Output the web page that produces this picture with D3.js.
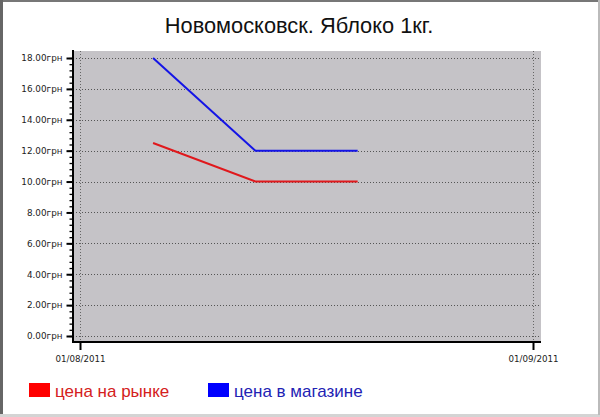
<!DOCTYPE html>
<html>
<head>
<meta charset="utf-8">
<script src="https://cdn.jsdelivr.net/npm/d3@7"></script>
<style>
  body { margin: 0; background: #fff; }
  svg { display: block; }
</style>
</head>
<body>
<script>
const width = 600;
const height = 417;

const dates = ["2011-08-06", "2011-08-13", "2011-08-20"];
const marketPrice = [12.5, 10, 10];
const shopPrice = [18, 12, 12];
const yTicks = [0, 2, 4, 6, 8, 10, 12, 14, 16, 18];
const xTicks = ["2011-08-01", "2011-09-01"];
const seriesNames = ["цена на рынке", "цена в магазине"];

const parse = d3.timeParse("%Y-%m-%d");
const fmtDate = d3.timeFormat("%d/%m/%Y");

const svg = d3.select("body").append("svg")
    .attr("width", width)
    .attr("height", height);

// picture frame
svg.append("rect").attr("x", 0).attr("y", 0).attr("width", width).attr("height", 2).attr("fill", "#777");
svg.append("rect").attr("x", 0).attr("y", 0).attr("width", 3).attr("height", 415).attr("fill", "#666");
svg.append("rect").attr("x", 0).attr("y", 414).attr("width", width).attr("height", 3).attr("fill", "#d4d4d4");
svg.append("rect").attr("x", 598).attr("y", 0).attr("width", 2).attr("height", 415).attr("fill", "#bbb");

svg.append("text")
    .attr("x", 299)
    .attr("y", 33)
    .attr("text-anchor", "middle")
    .style("font-family", "Liberation Sans, Arial, sans-serif")
    .style("font-size", "21.8px")
    .attr("fill", "#111")
    .text("Новомосковск. Яблоко 1кг.");

const x = d3.scaleTime()
    .domain([parse(xTicks[0]), parse(xTicks[1])])
    .range([80, 533]);

const y = d3.scaleLinear()
    .domain([0, 18])
    .range([336, 58]);

// plot background
svg.append("rect")
    .attr("x", 73).attr("y", 51)
    .attr("width", 541 - 73).attr("height", 342 - 51)
    .attr("fill", "#c5c3c7");

// horizontal dotted grid
svg.append("g").selectAll("line")
    .data(yTicks)
    .join("line")
    .attr("x1", 73).attr("x2", 541)
    .attr("y1", d => Math.round(y(d)) + 0.5)
    .attr("y2", d => Math.round(y(d)) + 0.5)
    .attr("stroke", "#555")
    .attr("stroke-dasharray", "1,2");

// vertical dotted grid
svg.append("g").selectAll("line")
    .data(xTicks)
    .join("line")
    .attr("x1", d => x(parse(d)) + 0.5).attr("x2", d => x(parse(d)) + 0.5)
    .attr("y1", 51).attr("y2", 342)
    .attr("stroke", "#666")
    .attr("stroke-dasharray", "1,2");

// y axis with minor ticks
const yAxis = svg.append("g")
    .attr("transform", "translate(73.5,0)")
    .call(d3.axisLeft(y).tickValues(d3.range(0, 18.01, 0.4)).tickSize(4).tickFormat(""));
yAxis.select(".domain").remove();
yAxis.selectAll(".tick line").attr("stroke", "#000").attr("stroke-width", 1.3);

const yMajor = svg.append("g")
    .attr("transform", "translate(73.5,0)")
    .call(d3.axisLeft(y).tickValues(yTicks).tickSize(7).tickPadding(4)
        .tickFormat(d => d3.format(".2f")(d) + "грн"));
yMajor.select(".domain").remove();
yMajor.selectAll(".tick line").attr("stroke", "#000").attr("stroke-width", 2);
yMajor.selectAll("text")
    .style("font-family", "DejaVu Sans, Verdana, sans-serif")
    .style("font-size", "8.8px")
    .attr("fill", "#222");

svg.append("line")
    .attr("x1", 73).attr("x2", 73).attr("y1", 50).attr("y2", 343)
    .attr("stroke", "#000").attr("stroke-width", 2);

// x axis
const xAxis = svg.append("g")
    .attr("transform", "translate(0,342)")
    .call(d3.axisBottom(x).tickValues(xTicks.map(parse)).tickSize(8).tickPadding(6).tickFormat(fmtDate));
xAxis.select(".domain").remove();
xAxis.selectAll(".tick line").attr("stroke", "#000").attr("stroke-width", 2);
xAxis.selectAll("text")
    .style("font-family", "DejaVu Sans, Verdana, sans-serif")
    .style("font-size", "8.7px")
    .attr("fill", "#222");

svg.append("line")
    .attr("x1", 72).attr("x2", 541).attr("y1", 342).attr("y2", 342)
    .attr("stroke", "#000").attr("stroke-width", 2);

// series
const line = d3.line()
    .x((d, i) => x(parse(dates[i])))
    .y(d => y(d));

svg.append("path")
    .datum(marketPrice)
    .attr("d", line)
    .attr("fill", "none")
    .attr("stroke", "#e0181c")
    .attr("stroke-width", 2);

svg.append("path")
    .datum(shopPrice)
    .attr("d", line)
    .attr("fill", "none")
    .attr("stroke", "#1414e6")
    .attr("stroke-width", 2);

// legend
const legendX = [29, 208];
const legendFill = ["#ff0000", "#0000ff"];
const legendText = ["#d42020", "#2222b4"];

const legend = svg.append("g").selectAll("g")
    .data(seriesNames)
    .join("g")
    .attr("transform", (d, i) => `translate(${legendX[i]},383)`);

legend.append("rect")
    .attr("width", 21).attr("height", 14)
    .attr("fill", (d, i) => legendFill[i]);

legend.append("text")
    .attr("x", 26)
    .attr("y", 13.5)
    .style("font-family", "Liberation Sans, Arial, sans-serif")
    .style("font-size", "17px")
    .attr("fill", (d, i) => legendText[i])
    .text(d => d);
</script>
</body>
</html>
